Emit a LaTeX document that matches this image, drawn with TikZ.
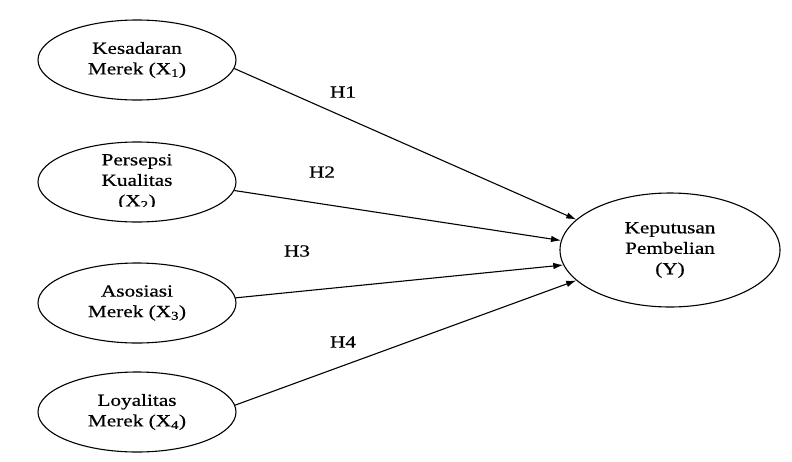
\documentclass[tikz,border=0pt]{standalone}
\usepackage{fontspec}
\setmainfont{Liberation Serif}[FakeStretch=1.25,FakeBold=0.6]
\usepackage{tikz}
\usetikzlibrary{shapes.geometric,arrows.meta}

\begin{document}
\begin{tikzpicture}[x=1pt,y=-1pt,line width=1.1pt,>={Latex[length=10pt,width=6.5pt]},
    font=\fontsize{17}{20.5}\selectfont]
    \useasboundingbox (0,0) rectangle (792,461);
    \tikzset{var/.style={ellipse,draw,inner sep=0pt,align=center,
        minimum width=198pt,minimum height=80pt}}

    \node [var] (x1) at (137,60) {Kesadaran\\Merek (X\textsubscript{1})};
    \node [var] (x2) at (137,182) {};
    \node [var] (x3) at (137,303) {Asosiasi\\Merek (X\textsubscript{3})};
    \node [var] (x4) at (137,412) {Loyalitas\\Merek (X\textsubscript{4})};
    \node [var,minimum width=220pt,minimum height=114pt] (y) at (670,250)
      {Keputusan\\Pembelian\\(Y)};

    % third line of X2 is cut off in the original
      \scope
      \clip (60,140) rectangle (220,206);
      \node [align=center] (x2text) at (137,182) {Persepsi\\Kualitas\\(X\textsubscript{2})};
      \endscope

    \draw [->] (x1.-5) -- (y.162);
    \draw [->] (x2.-5) -- (y.175);
    \draw [->] (x3.3) -- (y.188);
    \draw [->] (x4.4) -- (y.198);
    \node (h1) at (343,92) {H1};
    \node (h2) at (322,172) {H2};
    \node (h3) at (297,251) {H3};
    \node (h4) at (343,342) {H4};
\end{tikzpicture}
\end{document}
